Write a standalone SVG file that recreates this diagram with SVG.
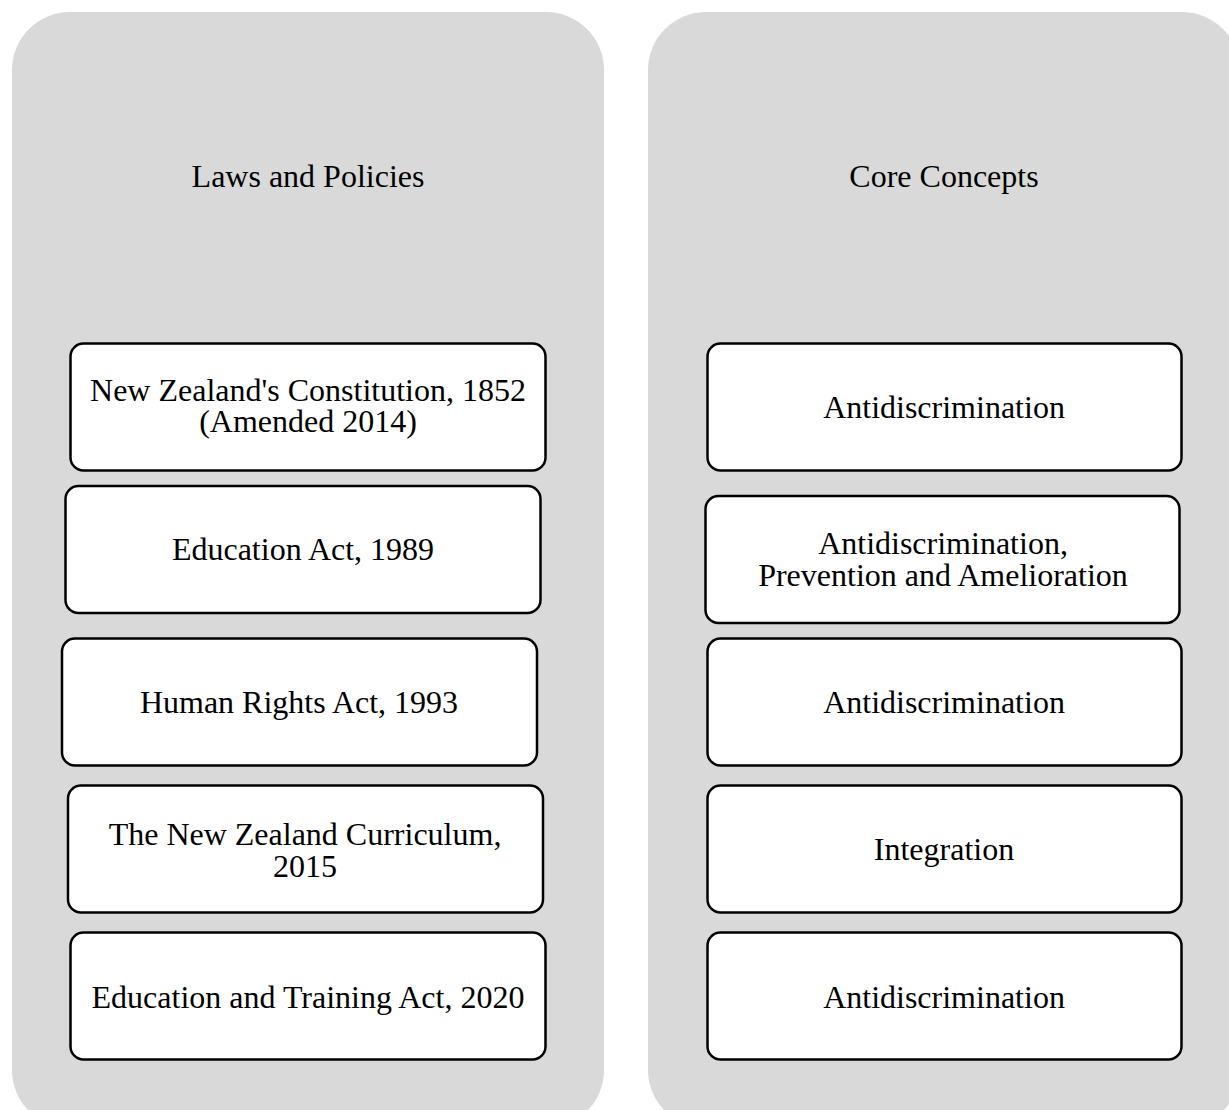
<svg xmlns="http://www.w3.org/2000/svg" width="1229" height="1110" viewBox="0 0 1229 1110">
<style>
.panel{fill:#d9d9d9;stroke:none}
.box{fill:#ffffff;stroke:#000000;stroke-width:2.5}
text{font-family:"Liberation Serif","Times New Roman",serif;font-size:32px;fill:#000000;text-anchor:middle}
</style>
<rect width="1229" height="1110" fill="#ffffff"/>
<g id="panel-laws">
<rect class="panel" x="12" y="12" width="592" height="1116" rx="58" ry="58"/>
<text x="308" y="187">Laws and Policies</text>
</g>
<g id="panel-concepts">
<rect class="panel" x="648" y="12" width="592" height="1116" rx="58" ry="58"/>
<text x="944" y="187">Core Concepts</text>
</g>
<g id="law1">
<rect class="box" x="70.5" y="343.5" width="475" height="127" rx="13"/>
<text x="308" y="401">New Zealand's Constitution, 1852</text>
<text x="308" y="432">(Amended 2014)</text>
</g>
<g id="law2">
<rect class="box" x="65.5" y="486" width="475" height="127" rx="13"/>
<text x="303" y="560">Education Act, 1989</text>
</g>
<g id="law3">
<rect class="box" x="62" y="638.5" width="475" height="127" rx="13"/>
<text x="299" y="713">Human Rights Act, 1993</text>
</g>
<g id="law4">
<rect class="box" x="68" y="785.5" width="475" height="127" rx="13"/>
<text x="305" y="845">The New Zealand Curriculum,</text>
<text x="305" y="877">2015</text>
</g>
<g id="law5">
<rect class="box" x="70.5" y="932.5" width="475" height="127" rx="13"/>
<text x="308" y="1008">Education and Training Act, 2020</text>
</g>
<g id="concept1">
<rect class="box" x="707.5" y="343.5" width="474" height="127" rx="13"/>
<text x="944" y="418">Antidiscrimination</text>
</g>
<g id="concept2">
<rect class="box" x="705.5" y="496" width="474" height="127" rx="13"/>
<text x="943" y="554">Antidiscrimination,</text>
<text x="943" y="586">Prevention and Amelioration</text>
</g>
<g id="concept3">
<rect class="box" x="707.5" y="638.5" width="474" height="127" rx="13"/>
<text x="944" y="713">Antidiscrimination</text>
</g>
<g id="concept4">
<rect class="box" x="707.5" y="785.5" width="474" height="127" rx="13"/>
<text x="944" y="860">Integration</text>
</g>
<g id="concept5">
<rect class="box" x="707.5" y="932.5" width="474" height="127" rx="13"/>
<text x="944" y="1008">Antidiscrimination</text>
</g>
<g id="connectors"></g>
</svg>
